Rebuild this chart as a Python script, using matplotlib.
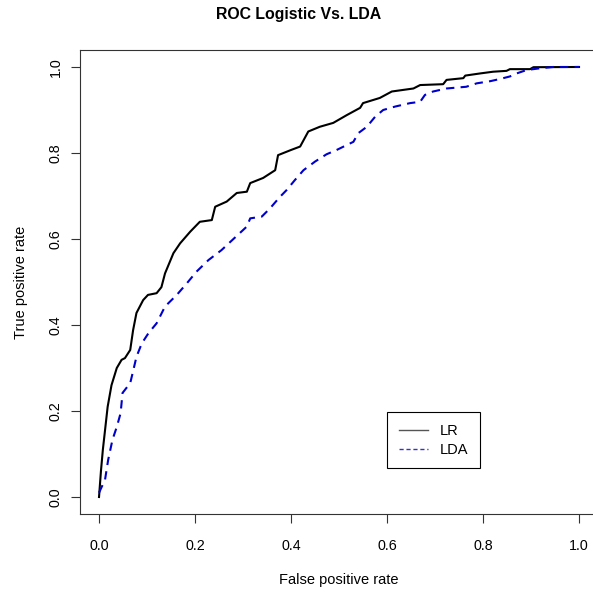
import matplotlib
matplotlib.use("Agg")
import matplotlib.pyplot as plt
from matplotlib.lines import Line2D

plt.rcParams['font.family'] = ['Liberation Sans', 'DejaVu Sans']

# ROC points (false positive rate, true positive rate)
lr_fpr = [0.0, 0.004, 0.008, 0.014, 0.018, 0.026, 0.037, 0.047, 0.054, 0.065,
          0.071, 0.078, 0.092, 0.102, 0.12, 0.13, 0.1375, 0.155, 0.169, 0.19,
          0.21, 0.235, 0.242, 0.266, 0.287, 0.308, 0.315, 0.342, 0.367, 0.373,
          0.40, 0.419, 0.436, 0.46, 0.488, 0.516, 0.544, 0.55, 0.585, 0.61,
          0.655, 0.669, 0.717, 0.724, 0.759, 0.763, 0.794, 0.821, 0.849, 0.856,
          0.898, 0.905, 1.0]
lr_tpr = [0.0, 0.06, 0.11, 0.17, 0.21, 0.26, 0.30, 0.319, 0.323, 0.342,
          0.388, 0.428, 0.458, 0.47, 0.474, 0.488, 0.52, 0.567, 0.59, 0.617,
          0.64, 0.644, 0.675, 0.687, 0.707, 0.71, 0.73, 0.742, 0.76, 0.795,
          0.807, 0.815, 0.85, 0.861, 0.87, 0.888, 0.905, 0.916, 0.928, 0.943,
          0.95, 0.958, 0.96, 0.97, 0.974, 0.98, 0.985, 0.989, 0.991, 0.995,
          0.995, 0.9995, 1.0]

lda_fpr = [0.0, 0.0125, 0.019, 0.028, 0.037, 0.045, 0.049, 0.065, 0.07, 0.078,
           0.089, 0.103, 0.12, 0.1375, 0.162, 0.183, 0.203, 0.228, 0.255, 0.28,
           0.308, 0.315, 0.339, 0.356, 0.377, 0.391, 0.408, 0.426, 0.45, 0.474,
           0.495, 0.53, 0.54, 0.558, 0.575, 0.592, 0.617, 0.648, 0.669, 0.679,
           0.696, 0.724, 0.765, 0.787, 0.815, 0.835, 0.856, 0.87, 0.891, 0.919,
           0.946, 1.0]
lda_tpr = [0.01, 0.04, 0.086, 0.133, 0.163, 0.195, 0.242, 0.265, 0.288, 0.326,
           0.357, 0.381, 0.404, 0.443, 0.47, 0.497, 0.524, 0.551, 0.574, 0.60,
           0.629, 0.648, 0.652, 0.671, 0.698, 0.714, 0.737, 0.76, 0.78, 0.797,
           0.807, 0.826, 0.846, 0.861, 0.884, 0.90, 0.908, 0.916, 0.919, 0.935,
           0.943, 0.95, 0.954, 0.962, 0.967, 0.972, 0.978, 0.985, 0.993, 0.997,
           1.0, 1.0]

ticks = [0.0, 0.2, 0.4, 0.6, 0.8, 1.0]
tick_labels = ["0.0", "0.2", "0.4", "0.6", "0.8", "1.0"]

fig = plt.figure(figsize=(5.93, 5.92), dpi=100)
ax = fig.add_axes([0.1346, 0.1314, 0.8742, 0.7845])

ax.plot(lr_fpr, lr_tpr, color='black', lw=1.5)
ax.plot(lda_fpr, lda_tpr, color='#0000CD', lw=1.5, linestyle=(0, (4, 3)))

ax.set_xlim(-0.04, 1.04)
ax.set_ylim(-0.04, 1.04)
ax.set_xticks(ticks)
ax.set_xticklabels(tick_labels)
ax.set_yticks(ticks)
ax.set_yticklabels(tick_labels, rotation=90, va='center')
ax.tick_params(direction='out', length=6.5, width=0.8, labelsize=10.3, color='#333333')
ax.tick_params(axis='x', pad=11)
ax.tick_params(axis='y', pad=6)
for s in ax.spines.values():
    s.set_linewidth(0.8)
    s.set_color('#333333')

ax.set_xlabel("False positive rate", fontsize=10.5, labelpad=15)
ax.set_ylabel("True positive rate", fontsize=10.5, labelpad=15)
fig.text(0.503, 0.976, "ROC Logistic Vs. LDA", fontsize=11.4, fontweight='bold',
         ha='center', va='center')

handles = [Line2D([], [], color='#555555', lw=1),
           Line2D([], [], color='#3333CC', lw=1, linestyle=(0, (3, 2)))]
leg = ax.legend(handles, ["LR", "LDA"], loc='upper left',
                bbox_to_anchor=(0.593, 0.22), fontsize=10.5, fancybox=False,
                framealpha=1, edgecolor='black', handlelength=2.0,
                handletextpad=0.8, labelspacing=0.35, borderpad=0.8,
                borderaxespad=0)
leg.get_frame().set_linewidth(0.8)

fig.savefig("out.png", dpi=100)
